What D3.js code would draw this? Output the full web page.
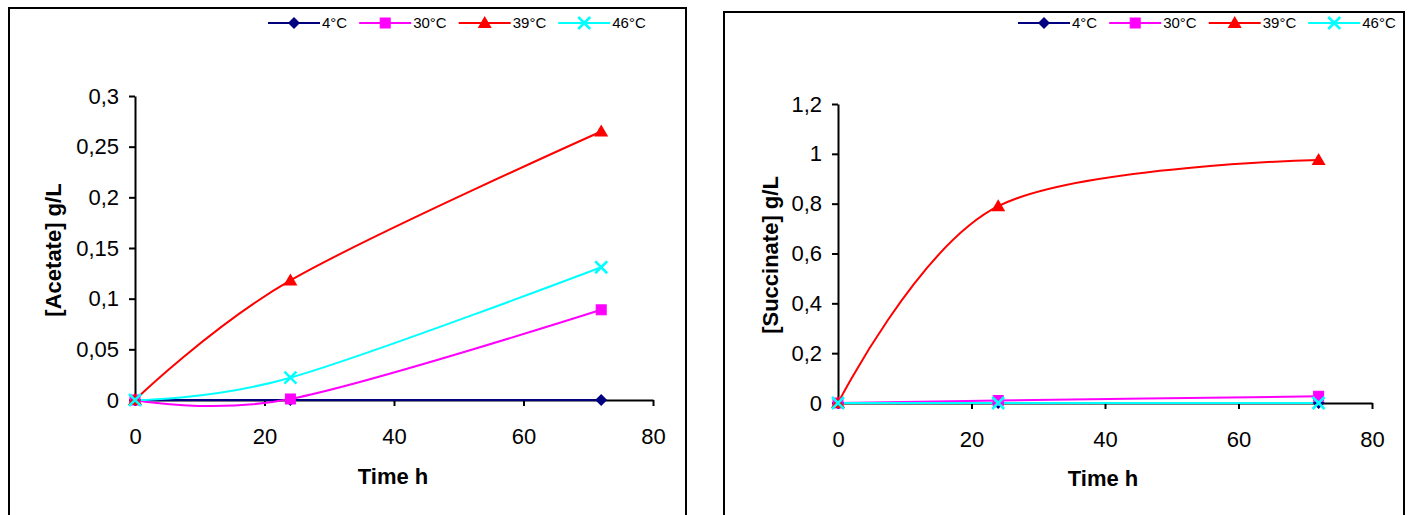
<!DOCTYPE html>
<html>
<head>
<meta charset="utf-8">
<script src="https://cdn.jsdelivr.net/npm/d3@7"></script>
<style>
  body { margin: 0; background: #fff; }
  text { font-family: "Liberation Sans", Arial, sans-serif; fill: #000; }
</style>
</head>
<body>
<svg id="chart" width="1410" height="515"></svg>
<script>
const times = [0, 24, 72]
const seriesNames = ['4°C', '30°C', '39°C', '46°C']
const seriesColors = ['#000080', '#ff00ff', '#ff0000', '#00ffff']
const seriesMarkers = ['diamond', 'square', 'triangle', 'cross']

const acetate4 = [0, 0, 0]
const acetate30 = [0, 0.001, 0.089]
const acetate39 = [0, 0.118, 0.265]
const acetate46 = [0, 0.022, 0.131]

const succinate4 = [0, 0, 0]
const succinate30 = [0, 0.01, 0.027]
const succinate39 = [0, 0.79, 0.975]
const succinate46 = [0, 0, 0]

const timeTicks = [0, 20, 40, 60, 80]
const acetateTicks = [0, 0.05, 0.1, 0.15, 0.2, 0.25, 0.3]
const succinateTicks = [0, 0.2, 0.4, 0.6, 0.8, 1, 1.2]

const svg = d3.select('#chart')
const comma = (d) => String(+d.toFixed(2)).replace('.', ',')

function drawMarker(g, type, x, y, color) {
  if (type === 'diamond') {
    g.append('path').attr('d', `M${x},${y - 6}L${x + 6},${y}L${x},${y + 6}L${x - 6},${y}Z`).attr('fill', color)
  } else if (type === 'square') {
    g.append('rect').attr('x', x - 5).attr('y', y - 5).attr('width', 10).attr('height', 10)
      .attr('fill', color).attr('stroke', color).attr('stroke-width', 1)
  } else if (type === 'triangle') {
    g.append('path').attr('d', `M${x},${y - 7}L${x + 7},${y + 5}L${x - 7},${y + 5}Z`).attr('fill', color)
  } else {
    g.append('path').attr('d', `M${x - 6},${y - 6}L${x + 6},${y + 6}M${x - 6},${y + 6}L${x + 6},${y - 6}`)
      .attr('stroke', color).attr('stroke-width', 2.5).attr('fill', 'none')
  }
}

function drawPanel(opts) {
  const g = svg.append('g')

  // frame
  g.append('rect')
    .attr('x', opts.frame[0]).attr('y', opts.frame[1])
    .attr('width', opts.frame[2]).attr('height', opts.frame[3])
    .attr('fill', '#fff').attr('stroke', '#000').attr('stroke-width', 2)

  const xScale = d3.scaleLinear().domain([0, 80]).range(opts.xRange)
  const yScale = d3.scaleLinear().domain([0, opts.yMax]).range(opts.yRange)

  const xAxis = g.append('g')
    .attr('transform', `translate(0,${opts.yRange[0]})`)
    .call(d3.axisBottom(xScale).tickValues(timeTicks).tickSize(6).tickSizeOuter(0).tickPadding(22).tickFormat(comma))
  const yAxis = g.append('g')
    .attr('transform', `translate(${opts.xRange[0]},0)`)
    .call(d3.axisLeft(yScale).tickValues(opts.yTicks).tickSize(6).tickSizeOuter(0).tickPadding(10).tickFormat(comma))

  ;[xAxis, yAxis].forEach((a) => {
    a.selectAll('path, line').attr('stroke', '#000').attr('stroke-width', 2)
    a.selectAll('text').attr('font-size', 22).attr('font-family', '"Liberation Sans", Arial, sans-serif').attr('fill', '#000')
  })

  g.append('text')
    .attr('transform', `translate(${opts.yTitlePos[0]},${opts.yTitlePos[1]}) rotate(-90)`)
    .attr('text-anchor', 'middle').attr('dy', '0.35em')
    .attr('font-size', 22).attr('font-weight', 'bold')
    .text(opts.yTitle)

  g.append('text')
    .attr('x', opts.xTitlePos[0]).attr('y', opts.xTitlePos[1])
    .attr('text-anchor', 'middle')
    .attr('font-size', 22).attr('font-weight', 'bold')
    .text('Time h')

  const line = d3.line()
    .x((d) => xScale(d[0]))
    .y((d) => yScale(d[1]))
    .curve(d3.curveCardinal.tension(0))

  opts.series.forEach((vals, i) => {
    const pts = times.map((t, j) => [t, vals[j]])
    g.append('path')
      .attr('d', line(pts))
      .attr('fill', 'none')
      .attr('stroke', seriesColors[i])
      .attr('stroke-width', 2)
  })
  opts.series.forEach((vals, i) => {
    const mg = g.append('g')
    times.forEach((t, j) => drawMarker(mg, seriesMarkers[i], xScale(t), yScale(vals[j]), seriesColors[i]))
  })

  // legend
  const lg = g.append('g')
  let lx = opts.legendPos[0]
  const ly = opts.legendPos[1]
  seriesNames.forEach((name, i) => {
    lg.append('line')
      .attr('x1', lx).attr('x2', lx + 52).attr('y1', ly).attr('y2', ly)
      .attr('stroke', seriesColors[i]).attr('stroke-width', 2)
    drawMarker(lg, seriesMarkers[i], lx + 26, ly, seriesColors[i])
    const t = lg.append('text')
      .attr('x', lx + 54).attr('y', ly).attr('dy', '0.35em')
      .attr('font-size', 15)
      .text(name)
    lx += 54 + t.node().getComputedTextLength() + 12
  })
}

drawPanel({
  frame: [9, 8, 677, 520],
  xRange: [135, 653],
  yRange: [400, 96],
  yMax: 0.3,
  yTicks: acetateTicks,
  yTitle: '[Acetate] g/L',
  yTitlePos: [53, 250],
  xTitlePos: [393, 484],
  legendPos: [268, 23],
  series: [acetate4, acetate30, acetate39, acetate46]
})

drawPanel({
  frame: [724, 12, 680, 520],
  xRange: [838, 1372],
  yRange: [403, 104],
  yMax: 1.2,
  yTicks: succinateTicks,
  yTitle: '[Succinate] g/L',
  yTitlePos: [770, 255],
  xTitlePos: [1103, 486],
  legendPos: [1018, 23],
  series: [succinate4, succinate30, succinate39, succinate46]
})
</script>
</body>
</html>
